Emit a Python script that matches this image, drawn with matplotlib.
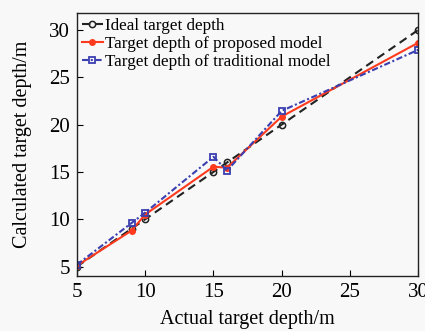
import matplotlib
matplotlib.use("Agg")
import matplotlib.pyplot as plt

x = [5, 9, 10, 15, 16, 20, 30]
ideal = [5, 9, 10, 15, 16, 20, 30]
proposed = [5.1, 8.8, 10.5, 15.55, 15.45, 20.85, 28.65]
traditional = [5.2, 9.6, 10.7, 16.6, 15.15, 21.45, 27.9]

xticks = [5, 10, 15, 20, 25, 30]
yticks = [5, 10, 15, 20, 25, 30]

plt.rcParams['font.family'] = ['Liberation Serif', 'DejaVu Serif']

fig = plt.figure(figsize=(4.25, 3.31), dpi=100, facecolor='#f8f8f8')
ax = fig.add_axes([0.181, 0.166, 0.803, 0.795])
ax.set_facecolor('#f8f8f8')

ax.plot(x, ideal, color='#222222', linestyle=(0, (4, 2.5)), lw=1.5, marker='o',
        ms=4.5, mfc='none', mec='#222222', mew=1.1, label='Ideal target depth')
ax.plot(x, proposed, color='#ff3b1f', linestyle='-', lw=1.5, marker='o',
        ms=4, mfc='#ff3b1f', mec='#ff3b1f', label='Target depth of proposed model')
ax.plot(x, traditional, color='#3b3fb0', linestyle=(0, (3, 1.2, 1, 1.2)), lw=1.5,
        marker='s', ms=4.5, mfc='none', mec='#3b3fb0', mew=1.3,
        label='Target depth of traditional model')

ax.set_xlim(5, 30)
ax.set_ylim(4.0, 31.8)
ax.set_xticks(xticks)
ax.set_yticks(yticks)
ax.tick_params(direction='in', labelsize=15, length=4, width=0.8, pad=5)
for s in ax.spines.values():
    s.set_linewidth(1.0)
    s.set_color('#222222')

ax.set_xlabel('Actual target depth/m', fontsize=14.5, labelpad=6)
ax.set_ylabel('Calculated target depth/m', fontsize=14.5, labelpad=12)

ax.legend(loc='upper left', frameon=False, fontsize=12.3, handlelength=1.2,
          handletextpad=0.15, labelspacing=0.12, borderaxespad=0.2,
          borderpad=0.1)

fig.savefig('out.png', dpi=100, facecolor=fig.get_facecolor())
